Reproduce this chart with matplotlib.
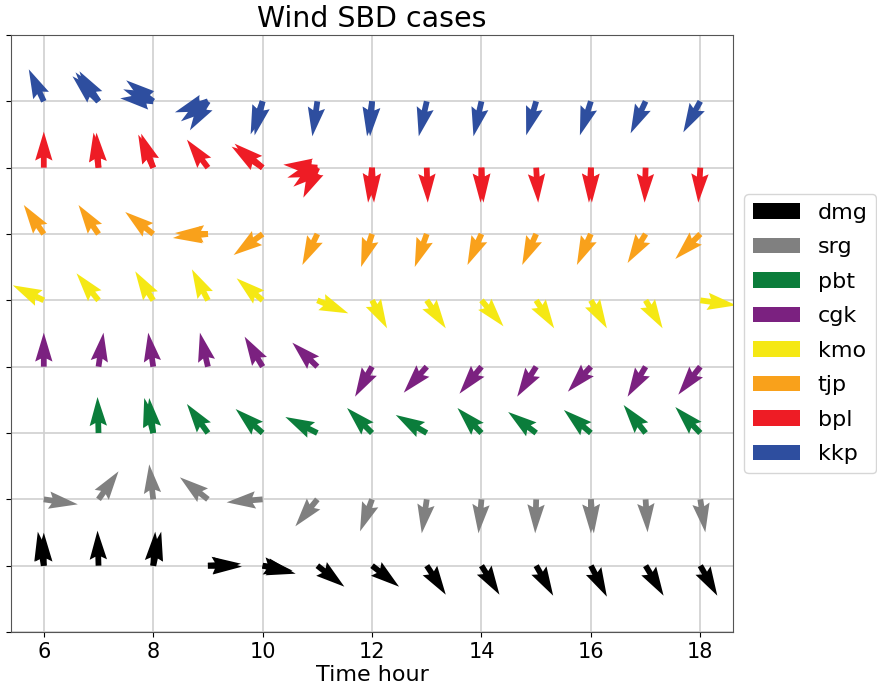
import matplotlib
matplotlib.use("Agg")
import matplotlib.pyplot as plt

# Station names (bottom row to top row) and colours
stations = ["dmg", "srg", "pbt", "cgk", "kmo", "tjp", "bpl", "kkp"]
colors = ["#000000", "#808080", "#0b7d3b", "#7b2180", "#f5e814", "#f9a11b", "#ee1c25", "#2e4e9f"]

# Wind readings per station: hour, u (east), v (north); repeated hours = several readings in that hour
dmg_hour = [6, 6, 7, 8, 8, 9, 9, 10, 10, 11, 12, 13, 14, 15, 16, 17, 18]
dmg_u = [-0.6, 0.0, -0.1, 0.8, 0.2, 3.4, 3.3, 3.3, 3.0, 2.7, 2.7, 1.9, 1.8, 1.7, 1.6, 1.8, 1.7]
dmg_v = [3.4, 3.3, 3.5, 3.4, 3.4, -0.1, 0.2, -0.8, -0.5, -2.1, -2.1, -2.9, -2.9, -3.0, -3.1, -3.0, -3.0]

srg_hour = [6, 7, 8, 9, 10, 11, 12, 13, 14, 15, 16, 16, 17, 18]
srg_u = [3.4, 2.0, -0.4, -2.8, -3.6, -2.2, -1.2, -0.5, -0.3, -0.1, 0.0, 0.3, 0.2, 0.5]
srg_v = [-0.5, 2.8, 3.5, 2.2, -0.3, -2.7, -3.2, -3.4, -3.4, -3.4, -3.4, -3.4, -3.3, -3.3]

pbt_hour = [7, 8, 8, 9, 10, 11, 12, 13, 14, 15, 16, 17, 18]
pbt_u = [-0.1, -0.9, -0.4, -2.1, -2.7, -3.2, -2.5, -3.1, -2.4, -2.8, -2.7, -2.2, -2.5]
pbt_v = [3.6, 3.5, 3.5, 2.9, 2.4, 1.6, 2.5, 1.8, 2.5, 2.1, 2.3, 2.8, 2.6]

cgk_hour = [6, 7, 8, 9, 10, 11, 12, 13, 14, 15, 16, 17, 18]
cgk_u = [0.0, 0.5, -0.5, -0.8, -1.8, -2.5, -1.7, -2.3, -2.2, -1.9, -2.3, -1.8, -2.2]
cgk_v = [3.4, 3.4, 3.4, 3.4, 3.0, 2.4, -3.0, -2.6, -2.7, -3.0, -2.5, -3.0, -2.8]

kmo_hour = [6, 7, 8, 9, 10, 11, 12, 13, 14, 15, 16, 17, 18]
kmo_u = [-3.1, -2.2, -1.8, -1.6, -2.6, 3.1, 1.5, 1.9, 2.2, 1.8, 1.6, 1.7, 3.6]
kmo_v = [1.5, 2.7, 2.9, 3.1, 2.2, -1.3, -2.8, -2.8, -2.6, -2.8, -2.8, -2.8, -0.5]

tjp_hour = [6, 7, 8, 9, 9, 10, 11, 12, 13, 14, 15, 16, 17, 18]
tjp_u = [-2.0, -2.0, -2.8, -3.5, -3.3, -2.9, -1.5, -1.1, -1.2, -1.4, -1.4, -1.4, -1.8, -2.5]
tjp_v = [2.9, 2.9, 2.2, -0.4, 0.1, -2.1, -3.1, -3.3, -3.3, -3.1, -3.1, -3.1, -2.9, -2.5]

bpl_hour = [6, 7, 7, 8, 8, 9, 10, 10, 11, 11, 11, 11, 12, 12, 13, 14, 14, 15, 16, 16, 17, 18]
bpl_u = [0.0, -0.5, -0.2, -1.5, -1.2, -2.1, -3.1, -2.8, -3.4, -3.0, -2.4, -1.4,
         -0.4, 0.2, 0.1, 0.2, -0.1, 0.2, 0.1, -0.2, -0.1, -0.2]
bpl_v = [3.6, 3.5, 3.5, 3.3, 3.4, 2.8, 2.1, 2.4, 0.3, -1.0, -1.9, -3.0,
         -3.5, -3.5, -3.5, -3.5, -3.5, -3.5, -3.5, -3.5, -3.5, -3.5]

kkp_hour = [6, 7, 7, 7, 8, 8, 8, 9, 9, 9, 10, 10, 11, 12, 12, 13, 14, 15, 16, 17, 18]
kkp_u = [-1.5, -2.3, -1.9, -2.6, -3.3, -3.0, -2.7, -3.3, -2.7, -1.8, -1.2, -0.8,
         -0.5, -0.5, -0.2, -0.8, -0.8, -1.0, -1.1, -1.5, -1.7]
kkp_v = [3.2, 2.9, 3.0, 2.5, 0.3, 1.2, 2.1, -1.1, -2.0, -2.9, -3.3, -3.4,
         -3.5, -3.5, -3.5, -3.5, -3.5, -3.4, -3.4, -3.2, -3.1]

hours_all = [dmg_hour, srg_hour, pbt_hour, cgk_hour, kmo_hour, tjp_hour, bpl_hour, kkp_hour]
u_all = [dmg_u, srg_u, pbt_u, cgk_u, kmo_u, tjp_u, bpl_u, kkp_u]
v_all = [dmg_v, srg_v, pbt_v, cgk_v, kmo_v, tjp_v, bpl_v, kkp_v]

x_ticks = [6, 8, 10, 12, 14, 16, 18]

fig = plt.figure(figsize=(8.78, 6.93), dpi=100)
ax = fig.add_axes([0.0125, 0.088, 0.8225, 0.8615])

for i, (name, c) in enumerate(zip(stations, colors)):
    h = hours_all[i]
    ax.quiver(h, [i + 1] * len(h), u_all[i], v_all[i], color=c,
              angles="uv", scale_units="dots", scale=0.1, width=0.008,
              label=name, zorder=3)

ax.set_xlim(5.4, 18.6)
ax.set_ylim(0, 9)
ax.set_xticks(x_ticks)
ax.set_yticks(range(10))
ax.set_yticklabels([])
ax.tick_params(axis="x", labelsize=15)
ax.grid(True, color="#d0d0d0", linewidth=1.2)
ax.set_axisbelow(True)
for s in ax.spines.values():
    s.set_color("#555555")
ax.set_title("Wind SBD cases", fontsize=20.5)
ax.set_xlabel("Time hour", fontsize=16, labelpad=2)
ax.legend(loc="center left", bbox_to_anchor=(1.0, 0.5), fontsize=16,
          handlelength=2.1, handleheight=0.7, labelspacing=0.65)

fig.savefig("out.png", dpi=100)
